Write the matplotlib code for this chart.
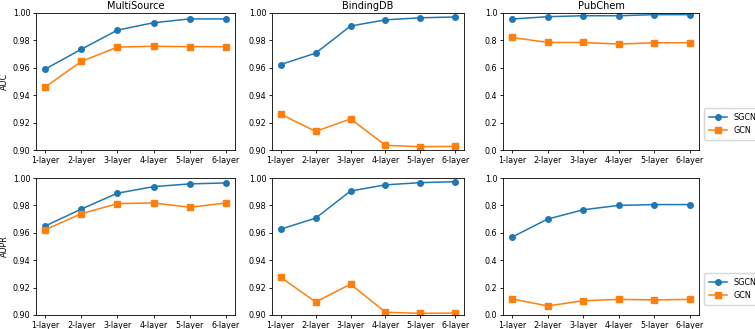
import matplotlib
matplotlib.use("Agg")
import matplotlib.pyplot as plt

layers = ["1-layer", "2-layer", "3-layer", "4-layer", "5-layer", "6-layer"]
datasets = ["MultiSource", "BindingDB", "PubChem"]

auc_sgcn_multi = [0.959, 0.9735, 0.9875, 0.9929, 0.9957, 0.9957]
auc_gcn_multi = [0.9459, 0.9646, 0.9751, 0.9757, 0.9754, 0.9754]
auc_sgcn_binding = [0.9624, 0.9707, 0.9905, 0.9950, 0.9965, 0.9971]
auc_gcn_binding = [0.9261, 0.9136, 0.9227, 0.9034, 0.9024, 0.9027]
auc_sgcn_pubchem = [0.956, 0.973, 0.980, 0.980, 0.988, 0.988]
auc_gcn_pubchem = [0.822, 0.785, 0.785, 0.773, 0.783, 0.783]

aupr_sgcn_multi = [0.9649, 0.9773, 0.9889, 0.9937, 0.9957, 0.9964]
aupr_gcn_multi = [0.9622, 0.9739, 0.9813, 0.9818, 0.9786, 0.9818]
aupr_sgcn_binding = [0.9627, 0.9707, 0.9905, 0.9950, 0.9966, 0.9973]
aupr_gcn_binding = [0.9275, 0.9095, 0.9225, 0.9020, 0.9012, 0.9014]
aupr_sgcn_pubchem = [0.568, 0.700, 0.768, 0.800, 0.806, 0.806]
aupr_gcn_pubchem = [0.118, 0.066, 0.104, 0.114, 0.110, 0.114]

auc_sgcn = [auc_sgcn_multi, auc_sgcn_binding, auc_sgcn_pubchem]
auc_gcn = [auc_gcn_multi, auc_gcn_binding, auc_gcn_pubchem]
aupr_sgcn = [aupr_sgcn_multi, aupr_sgcn_binding, aupr_sgcn_pubchem]
aupr_gcn = [aupr_gcn_multi, aupr_gcn_binding, aupr_gcn_pubchem]

W, H = 755, 329
fig = plt.figure(figsize=(W / 100, H / 100), dpi=100)

cols = [(36, 235), (272, 464), (503, 699)]
rows = [(13, 150), (178, 315)]

def box(c, r):
    x0, x1 = cols[c]
    y0, y1 = rows[r]
    return [x0 / W, 1 - y1 / H, (x1 - x0) / W, (y1 - y0) / H]

fs = 5.8
for r, (s_data, g_data, ylab) in enumerate([(auc_sgcn, auc_gcn, "AUC"), (aupr_sgcn, aupr_gcn, "AUPR")]):
    for c in range(3):
        ax = fig.add_axes(box(c, r))
        x = range(len(layers))
        ax.plot(x, s_data[c], marker="o", color="#1f77b4", lw=1.1, ms=4, label="SGCN")
        ax.plot(x, g_data[c], marker="s", color="#ff7f0e", lw=1.1, ms=4, label="GCN")
        ax.set_xticks(list(x))
        ax.set_xticklabels(layers)
        if c < 2:
            ax.set_ylim(0.90, 1.00)
            ax.set_yticks([0.90, 0.92, 0.94, 0.96, 0.98, 1.00])
            ax.set_yticklabels(["0.90", "0.92", "0.94", "0.96", "0.98", "1.00"])
        else:
            ax.set_ylim(0.0, 1.0)
            ax.set_yticks([0.0, 0.2, 0.4, 0.6, 0.8, 1.0])
        ax.tick_params(labelsize=fs, length=2.5, width=0.6, pad=1.5)
        for sp in ax.spines.values():
            sp.set_linewidth(0.6)
        if r == 0:
            ax.set_title(datasets[c], fontsize=7, pad=3)
        if c == 0:
            ax.set_ylabel(ylab, fontsize=fs, labelpad=3)
        if c == 2:
            ax.legend(loc="center left", bbox_to_anchor=(1.005, 0.19), fontsize=fs,
                      frameon=True, handlelength=2.2, borderpad=0.6,
                      labelspacing=0.5, fancybox=True)

fig.savefig("out.png", dpi=100)
